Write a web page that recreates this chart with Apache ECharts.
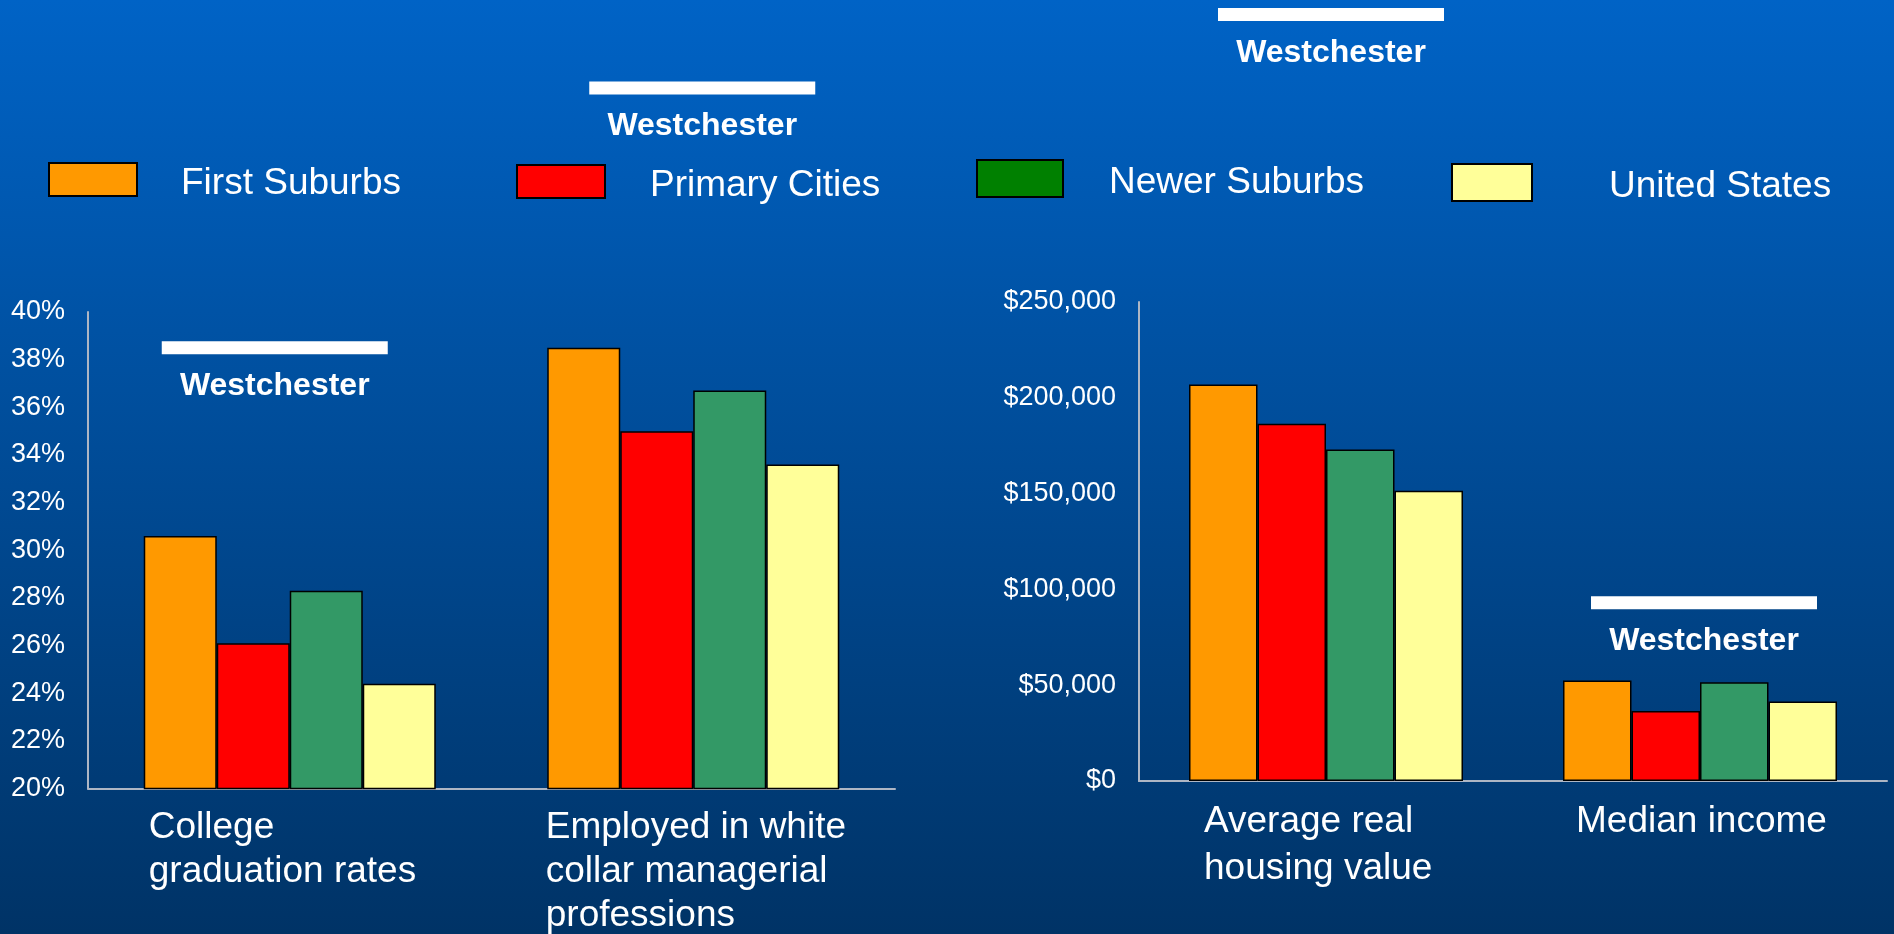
<!DOCTYPE html>
<html>
<head>
<meta charset="utf-8">
<title>Westchester comparison</title>
<script src="https://cdn.jsdelivr.net/npm/echarts@6/dist/echarts.min.js"></script>
<style>
  html, body { margin: 0; padding: 0; width: 100%; height: 100%; background: #003366; }
  #main { width: 1894px; height: 934px; }
</style>
</head>
<body>
<div id="main"></div>
<script>
// categories
const pctCats = ['College\ngraduation rates', 'Employed in white\ncollar managerial\nprofessions']
const usdCats = ['Average real\nhousing value', 'Median income']

// series names + values
const names = ['First Suburbs', 'Primary Cities', 'Newer Suburbs', 'United States']
const firstPct = [30.6, 38.5]
const primaryPct = [26.1, 35.0]
const newerPct = [28.3, 36.7]
const usPct = [24.4, 33.6]
const firstUsd = [207000, 52500]
const primaryUsd = [186500, 36500]
const newerUsd = [173000, 51500]
const usUsd = [151500, 41500]

// Westchester reference bars
const westPct = [38.5, 49.4]
const westUsd = [400000, 93000]

// y ticks
const pctTicks = { min: 20, max: 40, step: 2 }
const usdTicks = { min: 0, max: 250000, step: 50000 }

const barColors = ['#FF9900', '#FF0000', '#339966', '#FFFF99']
const legendColors = ['#FF9900', '#FF0000', '#008000', '#FFFF99']
const font = '"Liberation Sans", Arial, sans-serif'

var chartDom = document.getElementById('main')
var myChart = echarts.init(chartDom)

// each category label gets its own rich key (c0, c1) so its box width can differ
function catLabel (v, idx) {
  return v.split('\n').map(s => '{c' + idx + '|' + s + '}').join('\n')
}
function money (v) {
  return '$' + String(v).replace(/\B(?=(\d{3})+(?!\d))/g, ',')
}
function richBoxes (widths, lh) {
  const r = {}
  widths.forEach((w, i) => {
    r['c' + i] = { width: w, align: 'left', color: '#fff', fontSize: 37, lineHeight: lh, fontFamily: font }
  })
  return r
}

const pctData = [firstPct, primaryPct, newerPct, usPct]
const usdData = [firstUsd, primaryUsd, newerUsd, usUsd]
const series = []
for (let i = 0; i < 4; i++) {
  series.push({
    name: names[i], type: 'bar', xAxisIndex: 0, yAxisIndex: 0,
    barWidth: 73, barGap: 0,
    itemStyle: { color: barColors[i], borderColor: '#000', borderWidth: 1.5 },
    data: pctData[i]
  })
  series.push({
    name: names[i], type: 'bar', xAxisIndex: 1, yAxisIndex: 1,
    barWidth: 68.5, barGap: 0,
    itemStyle: { color: barColors[i], borderColor: '#000', borderWidth: 1.5 },
    data: usdData[i]
  })
}

// little horizontal nudges for the Westchester markers
const westNudge = [[-15, 9], [5, 4]]
const westLabel = {
  show: true, position: 'bottom', distance: 16, formatter: 'Westchester',
  color: '#fff', fontSize: 32, fontWeight: 'bold', fontFamily: font
}
series.push({
  type: 'scatter', xAxisIndex: 0, yAxisIndex: 0, clip: false, z: 5,
  symbol: 'rect', symbolSize: [226, 13], silent: true,
  itemStyle: { color: '#fff', opacity: 1 },
  label: westLabel,
  data: westPct.map((v, i) => ({ value: v, symbolOffset: [westNudge[0][i], 0] }))
})
series.push({
  type: 'scatter', xAxisIndex: 1, yAxisIndex: 1, clip: false, z: 5,
  symbol: 'rect', symbolSize: [226, 13], silent: true,
  itemStyle: { color: '#fff', opacity: 1 },
  label: westLabel,
  data: westUsd.map((v, i) => ({ value: v, symbolOffset: [westNudge[1][i], 0] }))
})

// one legend per item, so each can sit where the slide put it
const legendPos = [
  { left: 48, top: 162, w: 88, h: 33, pad: 39 },
  { left: 516, top: 164, w: 88, h: 33, pad: 40 },
  { left: 976, top: 159, w: 86, h: 37, pad: 41 },
  { left: 1451, top: 163, w: 80, h: 37, pad: 72 }
]
const legends = legendPos.map((p, i) => ({
  left: p.left, top: p.top, itemWidth: p.w, itemHeight: p.h, padding: 0,
  icon: 'rect', selectedMode: false,
  data: [{ name: names[i], itemStyle: { color: legendColors[i] } }],
  formatter: n => '{t|' + n + '}',
  textStyle: {
    color: '#fff', fontSize: 37, fontFamily: font,
    rich: { t: { color: '#fff', fontSize: 37, fontFamily: font, padding: [9, 0, 0, p.pad] } }
  }
}))

const axisLine = { show: true, lineStyle: { color: '#AEB6C4', width: 2 } }

var option = {
  backgroundColor: {
    type: 'linear', x: 0, y: 0, x2: 0, y2: 1,
    colorStops: [{ offset: 0, color: '#0063C6' }, { offset: 1, color: '#003366' }]
  },
  animation: false,
  textStyle: { fontFamily: font },
  legend: legends,
  grid: [
    { left: 88, top: 312, width: 807, height: 478 },
    { left: 1139, top: 302, width: 748, height: 479 }
  ],
  xAxis: [
    {
      type: 'category', gridIndex: 0, data: pctCats,
      axisLine: axisLine, axisTick: { show: false },
      axisLabel: { margin: 17, interval: 0, formatter: catLabel, rich: richBoxes([282, 295], 44) }
    },
    {
      type: 'category', gridIndex: 1, data: usdCats,
      axisLine: axisLine, axisTick: { show: false },
      axisLabel: { margin: 17, interval: 0, formatter: catLabel, rich: richBoxes([244, 248], 47) }
    }
  ],
  yAxis: [
    {
      type: 'value', gridIndex: 0, min: pctTicks.min, max: pctTicks.max, interval: pctTicks.step,
      axisLine: axisLine, axisTick: { show: false }, splitLine: { show: false },
      axisLabel: { formatter: '{value}%', color: '#fff', fontSize: 27, margin: 23, fontFamily: font }
    },
    {
      type: 'value', gridIndex: 1, min: usdTicks.min, max: usdTicks.max, interval: usdTicks.step,
      axisLine: axisLine, axisTick: { show: false }, splitLine: { show: false },
      axisLabel: { formatter: money, color: '#fff', fontSize: 27, margin: 23, fontFamily: font }
    }
  ],
  series: series
}
option && myChart.setOption(option)
</script>
</body>
</html>
